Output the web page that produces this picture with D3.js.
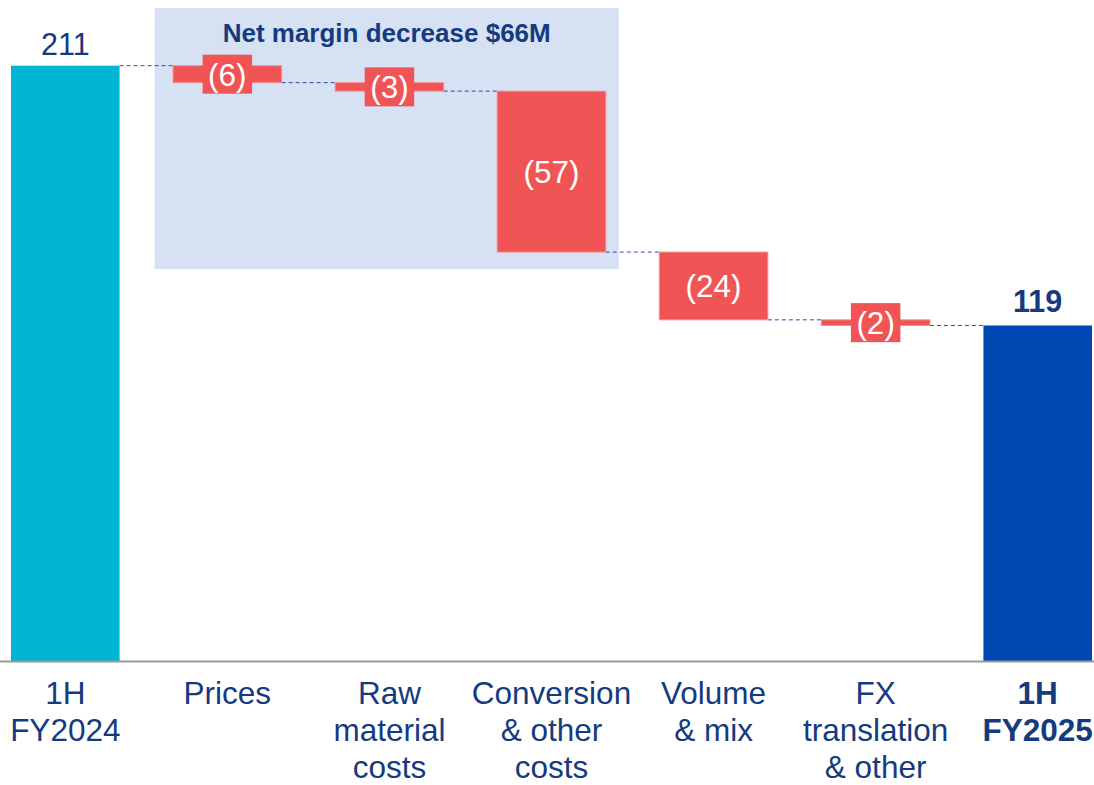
<!DOCTYPE html>
<html>
<head>
<meta charset="utf-8">
<script src="https://cdn.jsdelivr.net/npm/d3@7"></script>
<style>
  html, body { margin: 0; padding: 0; background: #fff; }
  svg { display: block; }
  text { font-family: Arial, "Liberation Sans", sans-serif; }
</style>
</head>
<body>
<svg id="chart" width="1094" height="785"></svg>
<script>
// ---- data ----
const categories = ["1H\nFY2024", "Prices", "Raw\nmaterial\ncosts", "Conversion\n& other\ncosts", "Volume\n& mix", "FX\ntranslation\n& other", "1H\nFY2025"];
const values = [211, -6, -3, -57, -24, -2, 119];
const kinds = ["total", "delta", "delta", "delta", "delta", "delta", "total"];
const valueLabels = ["211", "(6)", "(3)", "(57)", "(24)", "(2)", "119"];
const highlightTitle = "Net margin decrease $66M";
const highlightCats = ["Prices", "Conversion\n& other\ncosts"];

// ---- layout ----
const W = 1094, H = 785;
const baseY = 661.5;
const svg = d3.select("#chart");
const navy = "#143a7f";

const x = d3.scaleBand().domain(categories).range([11, 1092]).paddingInner(0.33).paddingOuter(0);
const y = d3.scaleLinear().domain([0, 211]).range([baseY, 65.7]);
const bw = x.bandwidth();

// compute waterfall segments
let running = 0;
const segs = categories.map((c, i) => {
  let y0, y1;
  if (kinds[i] === "total") { y0 = 0; y1 = values[i]; running = values[i]; }
  else { y0 = running; y1 = running + values[i]; running = y1; }
  return { cat: c, i, kind: kinds[i], start: y0, end: y1, label: valueLabels[i] };
});

// highlight box
const hx0 = x(highlightCats[0]) - 18.5;
const hx1 = x(highlightCats[1]) + bw + 13;
svg.append("rect")
  .attr("x", hx0).attr("y", 8)
  .attr("width", hx1 - hx0).attr("height", 261)
  .attr("fill", "#d6e1f4");
svg.append("text")
  .attr("x", (hx0 + hx1) / 2).attr("y", 42)
  .attr("text-anchor", "middle")
  .attr("font-size", 26).attr("font-weight", "bold")
  .attr("fill", navy)
  .text(highlightTitle);

// connectors
segs.slice(0, -1).forEach((s, i) => {
  const next = segs[i + 1];
  svg.append("line")
    .attr("x1", x(s.cat) + bw).attr("x2", x(next.cat))
    .attr("y1", y(s.end)).attr("y2", y(s.end))
    .attr("stroke", "#2d4f94").attr("stroke-width", 1)
    .attr("stroke-dasharray", "4,3");
});

// bars
const colorFor = (s) => s.kind === "delta" ? "#f05454" : (s.i === 0 ? "#00b4d4" : "#0047b4");
segs.forEach(s => {
  const top = y(Math.max(s.start, s.end));
  const bot = y(Math.min(s.start, s.end));
  svg.append("rect")
    .attr("x", x(s.cat)).attr("y", top)
    .attr("width", bw).attr("height", bot - top)
    .attr("fill", colorFor(s))
    .attr("stroke", s.kind === "delta" ? "#f59090" : "none")
    .attr("stroke-width", 1);
});

// delta labels with boxes
segs.filter(s => s.kind === "delta").forEach(s => {
  const cx = x(s.cat) + bw / 2;
  const cy = (y(s.start) + y(s.end)) / 2;
  const t = svg.append("text")
    .attr("x", cx).attr("y", cy + 11.5)
    .attr("text-anchor", "middle")
    .attr("font-size", 31.5)
    .attr("fill", "#ffffff")
    .text(s.label);
  const tw = t.node().getComputedTextLength();
  svg.insert("rect", () => t.node())
    .attr("x", cx - tw / 2 - 5.5).attr("y", cy - 19.5)
    .attr("width", tw + 11).attr("height", 39)
    .attr("fill", "#f05454");
});

// total labels
segs.filter(s => s.kind === "total").forEach(s => {
  svg.append("text")
    .attr("x", x(s.cat) + bw / 2).attr("y", y(s.end) - (s.i === 0 ? 10.5 : 13))
    .attr("text-anchor", "middle")
    .attr("font-size", 30.5)
    .attr("font-weight", s.i === 0 ? "normal" : "bold")
    .attr("fill", navy)
    .text(s.label);
});

// axis baseline
svg.append("line")
  .attr("x1", 0).attr("x2", W)
  .attr("y1", baseY).attr("y2", baseY)
  .attr("stroke", "#9a9a9a").attr("stroke-width", 2);

// category labels
categories.forEach((c, i) => {
  const lines = c.split("\n");
  const t = svg.append("text")
    .attr("text-anchor", "middle")
    .attr("font-size", 31.5)
    .attr("font-weight", i === categories.length - 1 ? "bold" : "normal")
    .attr("fill", navy);
  lines.forEach((l, j) => {
    t.append("tspan")
      .attr("x", x(c) + bw / 2)
      .attr("y", 704 + j * 37)
      .text(l);
  });
});
</script>
</body>
</html>
